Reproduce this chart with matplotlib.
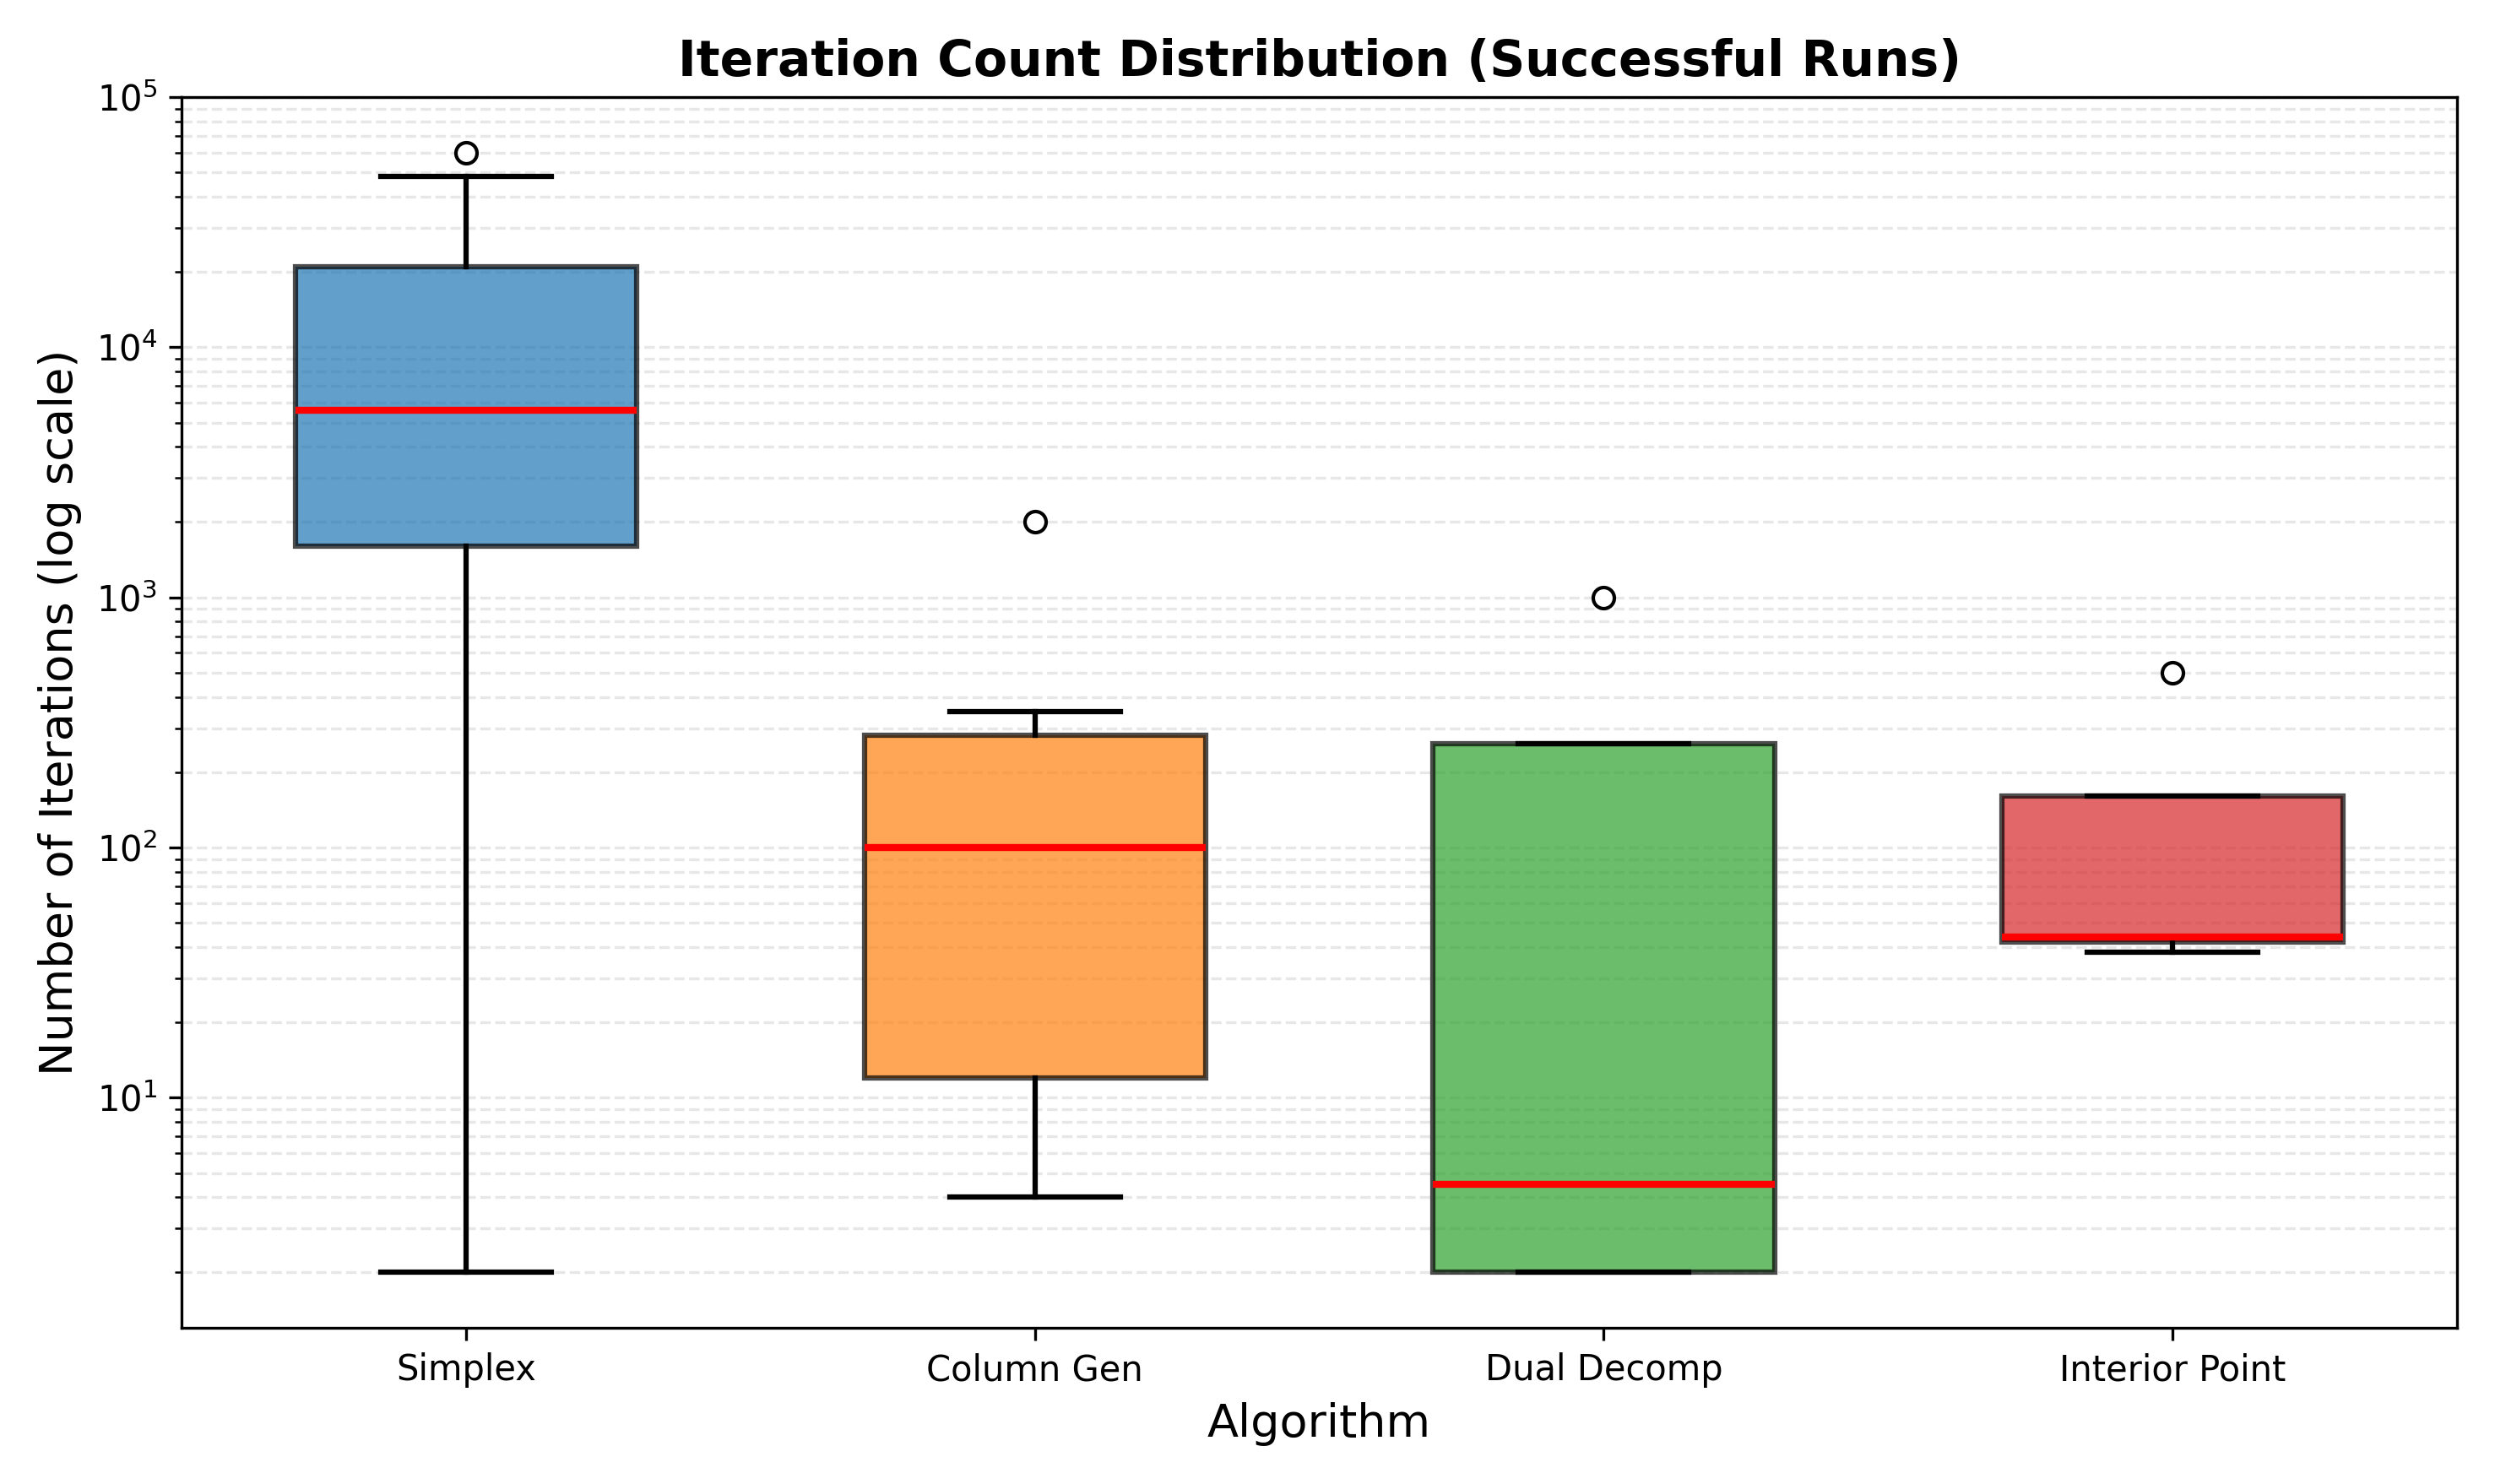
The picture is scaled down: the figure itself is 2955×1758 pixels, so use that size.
import matplotlib
matplotlib.use("Agg")
import matplotlib.pyplot as plt

algorithms = ["Simplex", "Column Gen", "Dual Decomp", "Interior Point"]
whislo = [2, 4, 2, 38]
q1 = [1600, 12, 2, 42]
med = [5600, 100, 4.5, 44]
q3 = [21000, 280, 260, 160]
whishi = [48000, 350, 260, 160]
fliers = [[60000], [2000], [1000], [500]]
colors = ["#1f77b4", "#ff7f0e", "#2ca02c", "#d62728"]

stats = [dict(label=a, whislo=wl, q1=a1, med=m, q3=a3, whishi=wh, fliers=f)
         for a, wl, a1, m, a3, wh, f in zip(algorithms, whislo, q1, med, q3, whishi, fliers)]

fig, ax = plt.subplots(figsize=(9.85, 5.86), dpi=300)
bp = ax.bxp(stats, patch_artist=True, widths=0.6,
            medianprops=dict(color="red", linewidth=2),
            whiskerprops=dict(color="black", linewidth=1.5),
            capprops=dict(color="black", linewidth=1.5),
            boxprops=dict(linewidth=1.5),
            flierprops=dict(marker="o", markerfacecolor="white", markeredgecolor="black", markersize=6))
for patch, c in zip(bp["boxes"], colors):
    patch.set_facecolor(c)
    patch.set_alpha(0.7)
    patch.set_edgecolor("black")
ax.set_yscale("log")
ax.set_ylim(1.2, 1e5)
ax.grid(True, which="both", axis="y", linestyle="--", alpha=0.3)
ax.set_title("Iteration Count Distribution (Successful Runs)", fontsize=14, fontweight="bold")
ax.set_xlabel("Algorithm", fontsize=13)
ax.set_ylabel("Number of Iterations (log scale)", fontsize=13)
fig.tight_layout()
fig.savefig("out.png", dpi=300)
